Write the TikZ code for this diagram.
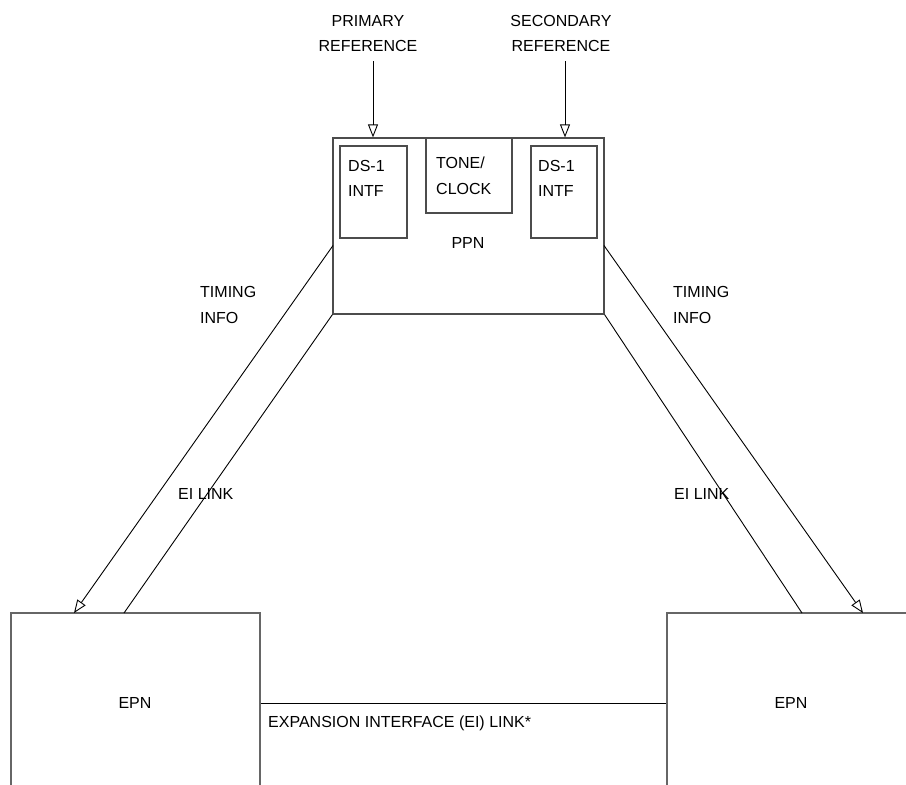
\documentclass[tikz,border=0pt]{standalone}
\usepackage{fontspec}
\setmainfont{Liberation Sans}
\usetikzlibrary{arrows.meta}
\tikzset{
  box/.style={draw=black!70, line width=1.2pt, inner sep=0pt},
  bigbox/.style={draw=black!60, line width=1.6pt, inner sep=0pt},
  txt/.style={inner sep=0pt, font=\fontsize{16}{25.5}\selectfont},
  conn/.style={draw=black, line width=0.9pt},
  arr/.style={conn, -{Triangle[open, length=13pt, width=10pt, line width=0.9pt]}}
}
\begin{document}
\begin{tikzpicture}[x=1pt, y=-1pt]
\useasboundingbox (0,0) rectangle (906,785);
\clip (0,0) rectangle (906,785);
\fill[white] (0,0) rectangle (906,785);

% PPN and inner boxes
\node[box, minimum width=271pt, minimum height=176pt] (ppn) at (468.5,226) {};
\node[txt] (ppnlbl) at (468,243) {PPN};
\node[box, minimum width=67pt, minimum height=92pt] (ds1l) at (373.5,192) {};
\node[box, minimum width=86pt, minimum height=75pt] (tone) at (469,175.5) {};
\node[box, minimum width=66pt, minimum height=92pt] (ds1r) at (564,192) {};
\node[txt, align=left, anchor=west] (ds1ltxt) at (348,178.5) {DS-1\\INTF};
\node[txt, align=left, anchor=west] (tonetxt) at (436,176) {TONE/\\CLOCK};
\node[txt, align=left, anchor=west] (ds1rtxt) at (538,178.5) {DS-1\\INTF};

% references
\node[txt, align=center] (pri) at (368,33.5) {PRIMARY\\REFERENCE};
\node[txt, align=center] (sec) at (561,33.5) {SECONDARY\\REFERENCE};
\coordinate (priS) at (373,61);
\coordinate (secS) at (565,61);
\draw[arr] (priS) -- (priS |- ppn.north);
\draw[arr] (secS) -- (secS |- ppn.north);

% EPN boxes
\node[bigbox, minimum width=249pt, minimum height=180pt] (epnl) at (135.5,703) {};
\node[txt] (epnltxt) at (135,703) {EPN};
\node[bigbox, minimum width=248pt, minimum height=180pt] (epnr) at (791,703) {};
\node[txt] (epnrtxt) at (791,703) {EPN};

% EI link between EPNs
\draw[conn] (epnl.east) -- (epnr.west);
\node[txt, anchor=west] (eilink) at (268,723) {EXPANSION INTERFACE (EI) LINK*};

% diagonal links
\coordinate (lA) at (333,245.5);
\coordinate (lB) at (74,613);
\coordinate (lD) at (124,613);
\coordinate (rA) at (604,245.5);
\coordinate (rB) at (863,613);
\coordinate (rD) at (802,613);
\draw[arr] (lA) -- (lB);
\draw[conn] (ppn.south west) -- (lD);
\draw[arr] (rA) -- (rB);
\draw[conn] (ppn.south east) -- (rD);

% labels
\node[txt, align=left, anchor=west] (timl) at (200,305) {TIMING\\INFO};
\node[txt, align=left, anchor=west] (timr) at (673,305) {TIMING\\INFO};
\node[txt, anchor=west] (eil) at (178,494) {EI LINK};
\node[txt, anchor=west] (eir) at (674,494) {EI LINK};
\end{tikzpicture}
\end{document}
